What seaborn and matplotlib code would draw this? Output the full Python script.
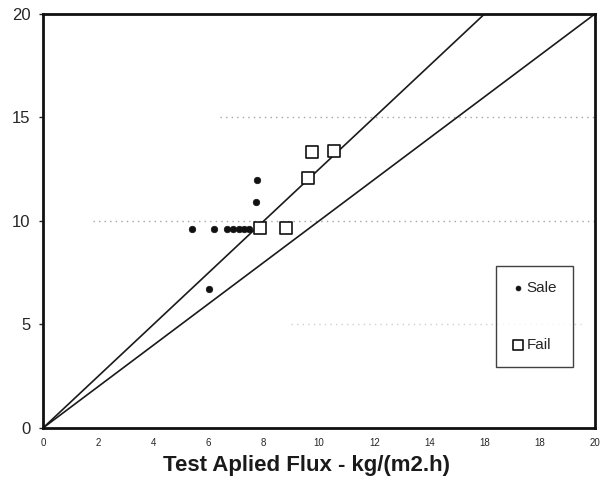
import matplotlib
matplotlib.use("Agg")
import matplotlib.pyplot as plt
import seaborn as sns
import pandas as pd

# Data
safe_x = [5.4, 6.2, 6.65, 6.9, 7.1, 7.3, 7.45, 7.75, 7.7, 6.0]
safe_y = [9.6, 9.6, 9.6, 9.6, 9.6, 9.6, 9.6, 12.0, 10.9, 6.7]
fail_x = [7.85, 8.8, 9.6, 9.75, 10.55]
fail_y = [9.65, 9.65, 12.05, 13.35, 13.4]
line1_x = [0, 16]
line1_y = [0, 20]
line2_x = [0, 20]
line2_y = [0, 20]
x_ticks = [0, 2, 4, 6, 8, 10, 12, 14, 16, 18, 20]
x_tick_labels = ["0", "2", "4", "6", "8", "10", "12", "14", "18", "18", "20"]
y_ticks = [0, 5, 10, 15, 20]
x_label = "Test Aplied Flux - kg/(m2.h)"
safe_label = "Sale"
fail_label = "Fail"

sns.set_style("white")
plt.rcParams["font.family"] = ["Liberation Sans", "DejaVu Sans"]

df_safe = pd.DataFrame({"x": safe_x, "y": safe_y})
df_fail = pd.DataFrame({"x": fail_x, "y": fail_y})

fig = plt.figure(figsize=(6.02, 4.79), dpi=100)
ax = fig.add_axes([0.0714, 0.1065, 0.917, 0.8645])

# faint dotted scan gridlines
ax.hlines([15], 6.4, 20, colors="#a5a5a5", linestyles=(0, (1, 3)), linewidth=1)
ax.hlines([10], 1.8, 20, colors="#a5a5a5", linestyles=(0, (1, 3)), linewidth=1)
ax.hlines([5], 9.0, 19.5, colors="#d0d0d0", linestyles=(0, (1, 3)), linewidth=1)

ax.plot(line1_x, line1_y, color="#1a1a1a", linewidth=1.2)
ax.plot(line2_x, line2_y, color="#1a1a1a", linewidth=1.2)

sns.scatterplot(data=df_safe, x="x", y="y", ax=ax, marker="o", s=22,
                color="#111111", edgecolor="#111111", linewidth=0.5,
                label=safe_label, zorder=3)
sns.scatterplot(data=df_fail, x="x", y="y", ax=ax, marker="s", s=80,
                facecolor="white", edgecolor="#111111", linewidth=1.2,
                label=fail_label, zorder=3)

ax.set_xlim(0, 20)
ax.set_ylim(0, 20)
ax.set_xticks(x_ticks)
ax.set_xticklabels(x_tick_labels, fontsize=7)
ax.set_yticks(y_ticks)
ax.tick_params(axis="y", labelsize=12, length=3, width=1, direction="out", left=True, pad=6)
ax.tick_params(axis="x", length=0, pad=7)
ax.set_xlabel(x_label, fontsize=16, fontweight="bold", labelpad=0, color="#1a1a1a")
ax.xaxis.set_label_coords(0.478, -0.065, transform=ax.transAxes)
ax.xaxis.label.set_verticalalignment("top")
ax.set_ylabel("")
for s in ax.spines.values():
    s.set_visible(True)
    s.set_linewidth(2.0)
    s.set_color("#111111")

leg = ax.legend(loc="upper left", bbox_to_anchor=(0.821, 0.392), frameon=True,
                fancybox=False, edgecolor="#111111", fontsize=11,
                labelspacing=2.8, handletextpad=0.2, borderpad=1.0,
                handlelength=0.8, borderaxespad=0, markerscale=0.75)
leg.get_frame().set_linewidth(1.0)

fig.savefig("out.png", dpi=100, facecolor="white")
